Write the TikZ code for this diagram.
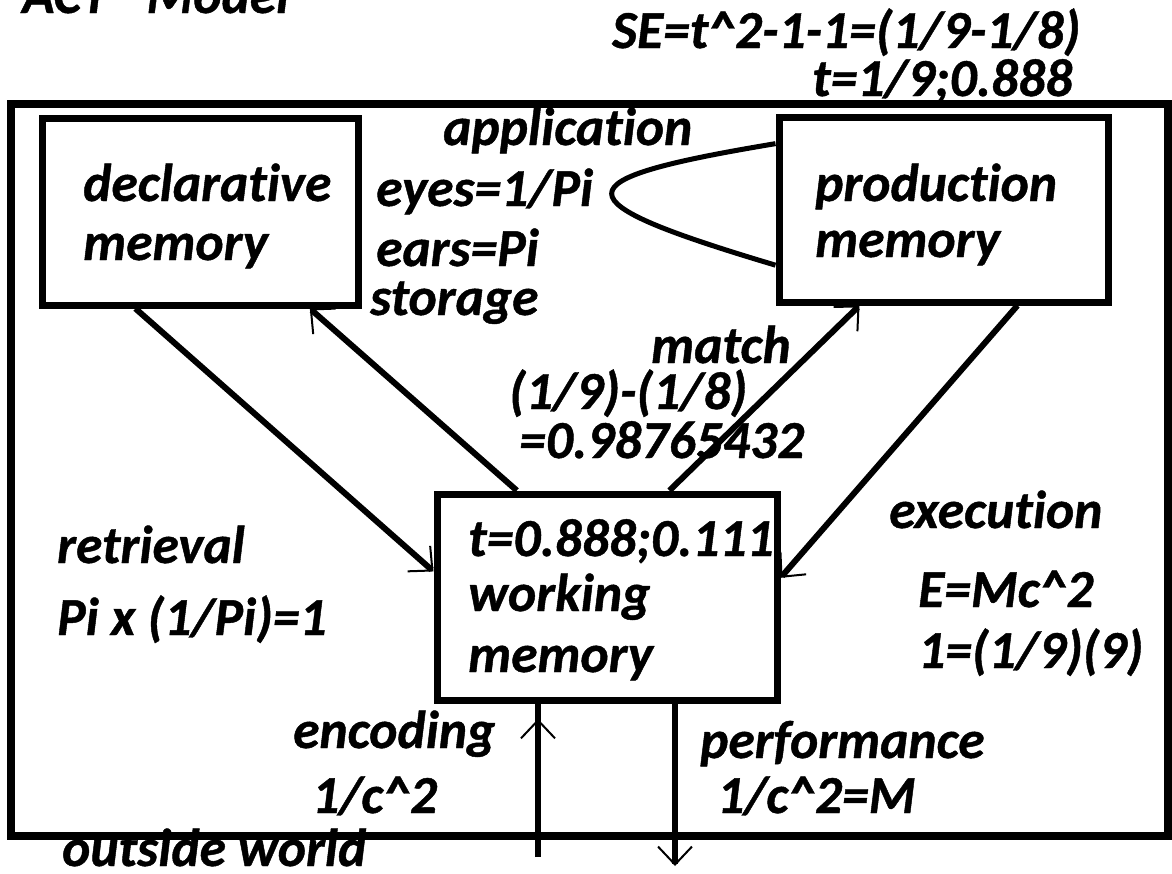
\documentclass[tikz,border=0pt]{standalone}
\usepackage{fontspec}
\setmainfont{Carlito}[Ligatures=NoCommon,BoldItalicFeatures={FakeBold=0.8}]
\usetikzlibrary{arrows.meta,calc,decorations.markings}

\begin{document}
\begin{tikzpicture}[x=1pt,y=-1pt,
  lbl/.style={anchor=base west,inner sep=0pt,font=\fontsize{53.5}{62}\selectfont\bfseries\itshape},
  box/.style={draw,line width=7pt,inner sep=0pt},
  link/.style={line width=6pt},
  tip/.style={-{Straight Barb[length=18pt,width=34pt,line width=2pt]}},
  midtip/.style={postaction={decorate,decoration={markings,
      mark=at position #1 with {\arrow{Straight Barb[length=18pt,width=34pt,line width=2pt]}}}}}]

\useasboundingbox (0,0) rectangle (1172,873);
\clip (0,0) rectangle (1172,873);

% frame of the whole system
\node[box,line width=8pt,minimum width=1157pt,minimum height=732pt] (sys) at (589.5,470) {};

% the three memories
\node[box,minimum width=316pt,minimum height=187pt] (decl) at (200,211.5) {};
\node[box,minimum width=329pt,minimum height=185pt] (prod) at (943.5,209.5) {};
\node[box,minimum width=340pt,minimum height=206pt] (wm) at (607,597) {};

% title and formulas
\node[lbl] (title) at (22,13) {ACT* Model};
\node[lbl] (se) at (612,48) {SE=t\^{}2-1-1=(1/9-1/8)};
\node[lbl] (tval) at (812,96) {t=1/9;0.888};

% box texts
\node[lbl] (decl1) at (83,201) {declarative};
\node[lbl] (decl2) at (83,260) {memory};
\node[lbl] (prod1) at (815,201) {production};
\node[lbl] (prod2) at (815,257) {memory};
\node[lbl] (wm1) at (468,556) {t=0.888;0.111};
\node[lbl] (wm2) at (468,611) {working};
\node[lbl] (wm3) at (468,672) {memory};

% process labels
\node[lbl] (app) at (443,145) {application};
\node[lbl] (eyes) at (376,206) {eyes=1/Pi};
\node[lbl] (ears) at (376,266) {ears=Pi};
\node[lbl] (stor) at (370,315) {storage};
\node[lbl] (match) at (651,363) {match};
\node[lbl] (m2) at (509,409) {(1/9)-(1/8)};
\node[lbl] (m3) at (519,458) {=0.98765432};
\node[lbl] (ret) at (57,563) {retrieval};
\node[lbl] (ret2) at (57,635) {Pi x (1/Pi)=1};
\node[lbl] (exe) at (889,528) {execution};
\node[lbl] (exe2) at (918,607) {E=Mc\^{}2};
\node[lbl] (exe3) at (918,668) {1=(1/9)(9)};
\node[lbl] (enc) at (293,748) {encoding};
\node[lbl] (enc2) at (312,813) {1/c\^{}2};
\node[lbl] (perf) at (700,758) {performance};
\node[lbl] (perf2) at (717,813) {1/c\^{}2=M};
\node[lbl] (world) at (62,866) {outside world};

% application loop on production memory
\draw[line width=5pt]
  ($(prod.north west)!0.157!(prod.south west)$)
  .. controls (557,180) and (557,200) ..
  ($(prod.north west)!0.79!(prod.south west)$);

% flows between the memories
\draw[link,tip] ($(decl.south west)!0.3!(decl.south east)$) -- ($(wm.north west)!0.38!(wm.south west)$);
\draw[link,tip] ($(wm.north west)!0.24!(wm.north east)$) -- ($(decl.south west)!0.84!(decl.south east)$);
\draw[link,tip] ($(wm.north west)!0.68!(wm.north east)$) -- ($(prod.south west)!0.25!(prod.south east)$);
\draw[link,tip] ($(prod.south west)!0.72!(prod.south east)$) -- ($(wm.north east)!0.41!(wm.south east)$);

% exchange with the outside world
\coordinate (encin) at (538,857);
\coordinate (perfout) at (675,866);
\draw[link,midtip=0.9] (encin) -- (encin |- wm.south);
\draw[link,tip] (perfout |- wm.south) -- (perfout);
\end{tikzpicture}
\end{document}
